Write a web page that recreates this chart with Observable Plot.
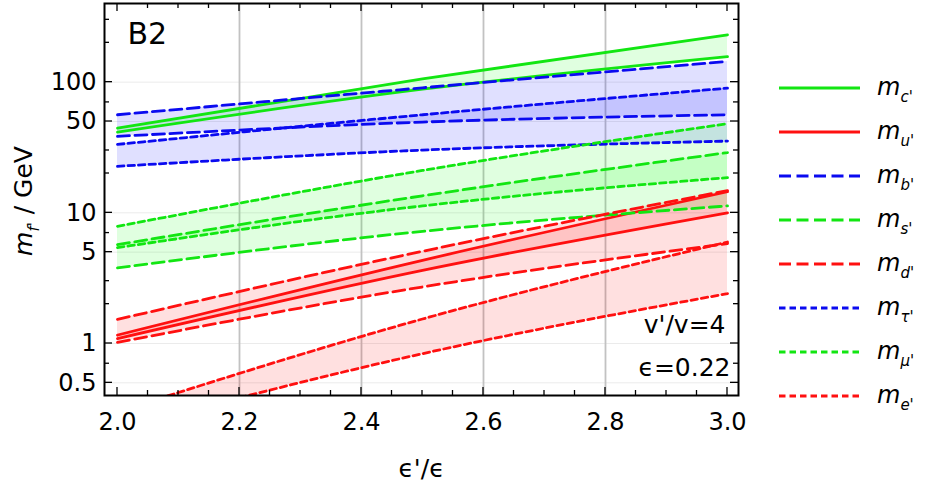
<!DOCTYPE html>
<html>
<head>
<meta charset="utf-8">
<script src="https://cdn.jsdelivr.net/npm/d3@7"></script>
<script src="https://cdn.jsdelivr.net/npm/@observablehq/plot@0.6"></script>
<style>
  body { margin: 0; background: #fff; }
  #chart { width: 928px; height: 490px; }
</style>
</head>
<body>
<div id="chart"></div>
<script>
// ε'/ε sample points
const ratio = [2.0, 2.5, 3.0];

// upper / lower edge of each mirror-fermion mass band, in GeV
const cHi = [44.5, 106, 230];
const cLo = [41.5, 88.3, 157];
const uHi = [1.16, 4.33, 14.5];
const uLo = [1.09, 3.63, 10.0];
const bHi = [56.3, 90.6, 144];
const bLo = [38.5, 49.5, 56.3];
const sHi = [5.71, 13.5, 28.9];
const sLo = [3.79, 7.22, 11.3];
const dHi = [1.53, 5.08, 14.8];
const dLo = [1.02, 2.71, 5.82];
const tauHi = [33.4, 56.3, 90];
const tauLo = [22.7, 30.2, 35.4];
const muHi = [7.88, 21.1, 48.1];
const muLo = [5.42, 11.3, 18.6];
const eHi = [0.30, 1.54, 5.98];
const eLo = [0.22, 0.836, 2.41];

// axis ticks
const xTicks = [2.0, 2.2, 2.4, 2.6, 2.8, 3.0];
const xGrid = [2.2, 2.4, 2.6, 2.8];
const yTicks = [0.5, 1, 5, 10, 50, 100];
const yMinor = [0.7, 2, 3, 7, 20, 30, 70, 200, 300];

const GREEN = "#12e612", RED = "#ff1010", BLUE = "#0a0af0";
const DASHED = "12,5.5", DOTTED = "6.5,4";
const FONT = "'DejaVu Sans', 'Liberation Sans', sans-serif";

const fermions = [
  {sub: "c'", color: GREEN, dash: null,   hi: cHi,   lo: cLo},
  {sub: "u'", color: RED,   dash: null,   hi: uHi,   lo: uLo},
  {sub: "b'", color: BLUE,  dash: DASHED, hi: bHi,   lo: bLo},
  {sub: "s'", color: GREEN, dash: DASHED, hi: sHi,   lo: sLo},
  {sub: "d'", color: RED,   dash: DASHED, hi: dHi,   lo: dLo},
  {sub: "τ'", color: BLUE,  dash: DOTTED, hi: tauHi, lo: tauLo},
  {sub: "μ'", color: GREEN, dash: DOTTED, hi: muHi,  lo: muLo},
  {sub: "e'", color: RED,   dash: DOTTED, hi: eHi,   lo: eLo}
];
const rowsOf = f => ratio.map((r, i) => ({r, hi: f.hi[i], lo: f.lo[i]}));

const fillColor = {[GREEN]: "#00ff00", [RED]: "#ff0000", [BLUE]: "#0000ff"};

const W = 928, H = 490, ML = 104, MR = 190, MT = 3, MB = 95;

const plot = Plot.plot({
  width: W, height: H,
  marginLeft: ML, marginRight: MR, marginTop: MT, marginBottom: MB,
  style: {fontFamily: FONT, fontSize: "24px", color: "#000", background: "#fff"},
  x: {domain: [2, 3], insetLeft: 13, insetRight: 11, axis: null},
  y: {type: "log", domain: [0.4, 400], axis: null},
  marks: [
    Plot.ruleY(yTicks, {stroke: "#ebebeb", strokeWidth: 1}),
    Plot.ruleX(xGrid, {stroke: "#c2c2c2", strokeWidth: 1.8}),
    ...fermions.map(f => Plot.areaY(rowsOf(f), {
      x: "r", y1: "lo", y2: "hi", fill: fillColor[f.color], fillOpacity: 0.12,
      curve: "natural", clip: true
    })),
    ...fermions.flatMap(f => ["lo", "hi"].map(k => Plot.lineY(rowsOf(f), {
      x: "r", y: k, stroke: f.color, strokeWidth: 2.8,
      strokeDasharray: f.dash, curve: "natural", clip: true
    }))),
    // tick labels
    Plot.text(xTicks, {x: d => d, frameAnchor: "bottom", dy: 17, lineAnchor: "top",
      text: d3.format(".1f"), fontSize: 24}),
    Plot.text(yTicks, {y: d => d, frameAnchor: "left", dx: -8, textAnchor: "end",
      text: d => String(d), fontSize: 24}),
    Plot.frame({stroke: "#000", strokeWidth: 2}),
    Plot.text(["B2"], {frameAnchor: "top-left", dx: 23, dy: 19, textAnchor: "start", lineAnchor: "top", fontSize: 30}),
    Plot.text(["v'/v=4"], {frameAnchor: "bottom-right", dx: -13, dy: -63, textAnchor: "end", lineAnchor: "bottom", fontSize: 25}),
    Plot.text(["ϵ=0.22"], {frameAnchor: "bottom-right", dx: -8, dy: -20, textAnchor: "end", lineAnchor: "bottom", fontSize: 25}),
    Plot.text(["ϵ'/ϵ"], {frameAnchor: "bottom", dy: 81, lineAnchor: "bottom", fontSize: 25})
  ]
});

document.getElementById("chart").appendChild(plot);

// inward ticks on all four sides of the frame
const sx = plot.scale("x"), sy = plot.scale("y");
const svg = d3.select(plot);
const frameTop = MT, frameBottom = H - MB, frameLeft = ML, frameRight = W - MR;
const tg = svg.append("g").attr("stroke", "#000").attr("stroke-width", 1.3);
for (let i = 0; i <= 20; i++) {
  const v = 2 + i * 0.05;
  const px = sx.apply(v);
  const len = i % 4 === 0 ? 8 : 5;
  tg.append("line").attr("x1", px).attr("x2", px).attr("y1", frameBottom).attr("y2", frameBottom - len);
  tg.append("line").attr("x1", px).attr("x2", px).attr("y1", frameTop).attr("y2", frameTop + len);
}
[...yTicks.map(v => [v, 8]), ...yMinor.map(v => [v, 5])].forEach(([v, len]) => {
  const py = sy.apply(v);
  tg.append("line").attr("x1", frameLeft).attr("x2", frameLeft + len).attr("y1", py).attr("y2", py);
  tg.append("line").attr("x1", frameRight).attr("x2", frameRight - len).attr("y1", py).attr("y2", py);
});

// y-axis title: m_f' / GeV
const yl = svg.append("text")
  .attr("transform", "translate(32,201) rotate(-90)")
  .attr("text-anchor", "middle")
  .attr("font-family", FONT)
  .attr("font-size", 25)
  .attr("fill", "#000");
yl.append("tspan").attr("font-style", "italic").text("m");
yl.append("tspan").attr("font-style", "italic").attr("font-size", 15).attr("dy", 7).text("f'");
yl.append("tspan").attr("dy", -7).text(" / GeV");

// legend
const lg = svg.append("g").attr("font-family", FONT).attr("text-anchor", "start");
fermions.forEach((f, i) => {
  const cy = 88 + i * 44;
  lg.append("line")
    .attr("x1", 779).attr("x2", 860).attr("y1", cy).attr("y2", cy)
    .attr("stroke", f.color).attr("stroke-width", 2.8)
    .attr("stroke-dasharray", f.dash);
  const t = lg.append("text").attr("x", 877).attr("y", cy + 7)
    .attr("text-anchor", "start")
    .attr("font-size", 24).attr("font-style", "italic").attr("fill", "#000");
  t.append("tspan").text("m");
  t.append("tspan").attr("font-size", 15).attr("dy", 7).text(f.sub);
});
</script>
</body>
</html>
